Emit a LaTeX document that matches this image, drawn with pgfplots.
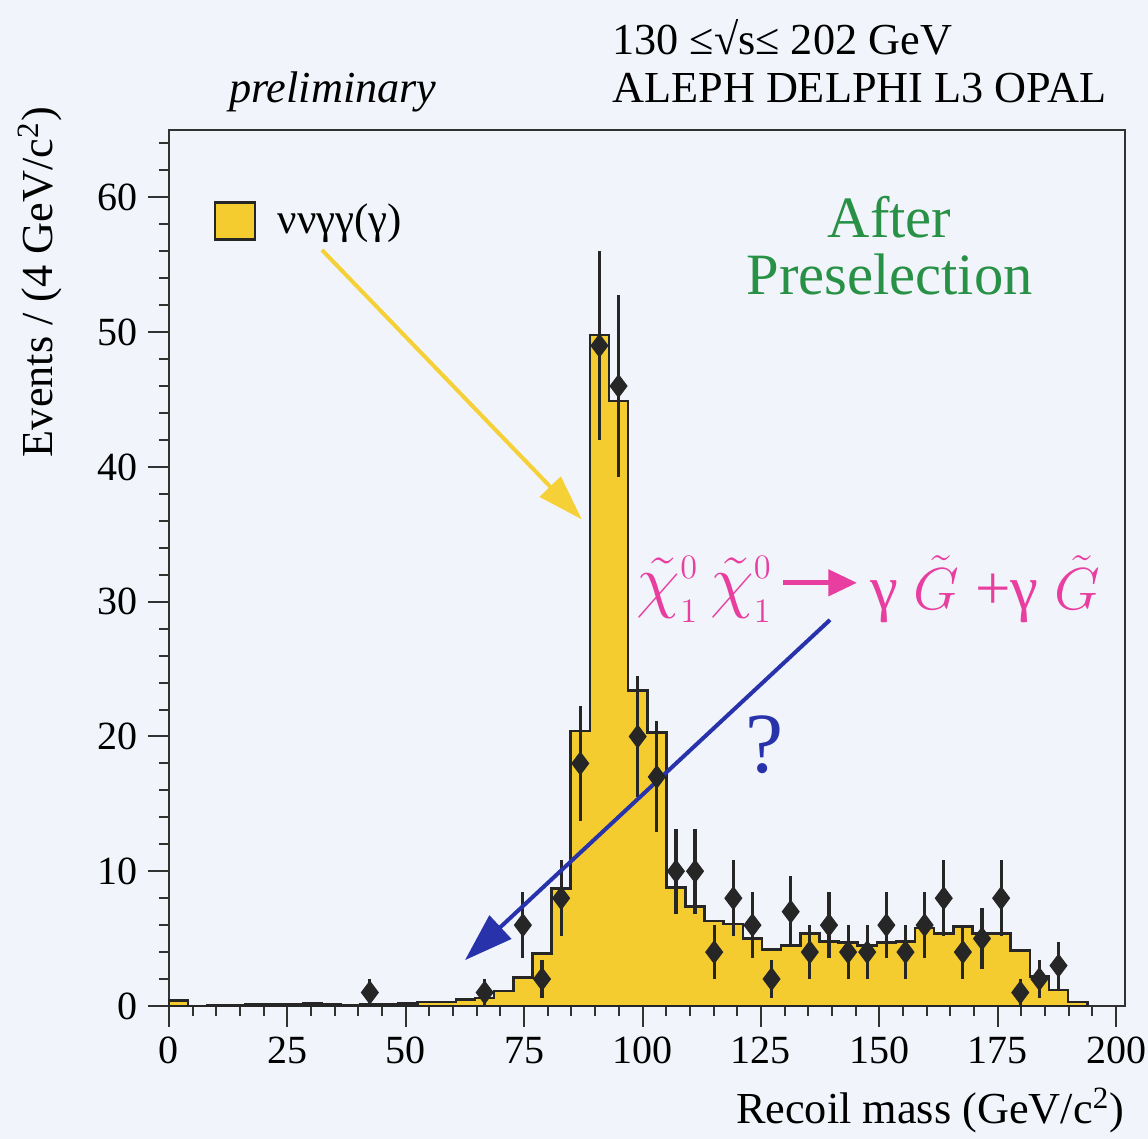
\documentclass[border=0pt]{standalone}
\usepackage{fontspec}
\setmainfont{Liberation Serif}
\usepackage{pgfplots}
\pgfplotsset{compat=1.18}
\usetikzlibrary{arrows.meta}
\definecolor{bg}{RGB}{241,245,251}
\definecolor{histfill}{RGB}{244,204,48}
\definecolor{yarrow}{RGB}{245,208,55}
\definecolor{barr}{RGB}{40,50,170}
\definecolor{pinkc}{RGB}{232,62,160}
\definecolor{greenc}{RGB}{40,145,70}
\definecolor{axgray}{RGB}{50,50,50}
\begin{document}
\begin{tikzpicture}
\fill[bg] (-59.15pt,-46.55pt) rectangle (342.65pt,352.1pt);
\useasboundingbox (-59.15pt,-46.55pt) rectangle (342.65pt,352.1pt);
\begin{axis}[
  scale only axis, width=334.6pt, height=306.6pt,
  at={(0pt,0pt)}, anchor=south west,
  xmin=0, xmax=201.9, ymin=0, ymax=65,
  axis line style={axgray, line width=0.8pt},
  xtick={0,25,...,200}, minor xtick={5,10,...,195},
  ytick={0,10,...,60}, minor ytick={2,4,...,64},
  tick align=outside, xtick pos=bottom, ytick pos=left,
  major tick length=7.35pt, minor tick length=3.5pt,
  tick style={axgray, line width=0.7pt},
  /pgf/number format/assume math mode=true,
  tick label style={font=\fontsize{14}{16}\selectfont},
  xlabel={Recoil mass (GeV/c\textsuperscript{2})},
  ylabel={Events / (4 GeV/c\textsuperscript{2})},
  label style={font=\fontsize{15.5}{18}\selectfont},
  xlabel style={at={(axis description cs:1,-0.119)}, anchor=east, inner sep=0pt},
  ylabel style={at={(axis description cs:-0.135,1.027)}, anchor=east, inner sep=0pt},
  clip=false,
  legend style={at={(axis description cs:0.046,0.896)}, anchor=west, draw=none, fill=none,
    inner sep=0pt, font=\fontsize{15}{18}\selectfont},
  legend cell align=left,
]
\addplot[const plot, fill=histfill, draw=black!85, line width=0.9pt,
  legend image code/.code={\draw[fill=histfill, draw=black!85, line width=0.9pt] (0pt,-6.5pt) rectangle (14pt,6.5pt); \path[draw=none, fill=none] (14pt,0pt) rectangle (20pt,0.1pt);}]
  coordinates {
  (0,0.4) (4.04,0) (8.08,0.05) (12.12,0.05) (16.16,0.1) (20.2,0.15) (24.24,0.1)
  (28.28,0.2) (32.32,0.1) (36.36,0.05) (40.4,0.1) (44.44,0.1) (48.48,0.2)
  (52.52,0.3) (56.56,0.3) (60.6,0.5) (64.64,0.6) (68.68,1.1) (72.72,2.1)
  (76.76,3.9) (80.8,8.7) (84.84,20.4) (88.88,49.8) (92.92,44.9) (96.96,23.4)
  (101,20.3) (105.04,8.8) (109.08,7.4) (113.12,6.3) (117.16,6.1) (121.2,5.0)
  (125.24,4.2) (129.28,4.5) (133.32,5.4) (137.36,4.8) (141.4,4.7) (145.44,4.5)
  (149.48,4.7) (153.52,4.8) (157.56,5.8) (161.6,5.4) (165.64,5.9) (169.68,5.4)
  (173.72,5.4) (177.76,4.1) (181.8,2.2) (185.84,1.2) (189.88,0.3) (193.92,0)
  } \closedcycle;
\addlegendentry{ννγγ(γ)}
\addplot[forget plot, only marks, mark=diamond*, mark size=3.9pt, color=black!85,
  error bars/.cd, y dir=both, y explicit, error mark=none,
  error bar style={line width=1.1pt, black!85}]
  coordinates {
  (42.42,1) +- (0,1)
  (66.66,1) +- (0,1)
  (74.74,6) +- (0,2.449)
  (78.78,2) +- (0,1.414)
  (82.82,8) +- (0,2.828)
  (86.86,18) +- (0,4.243)
  (90.90,49) +- (0,7)
  (94.94,46) +- (0,6.782)
  (98.98,20) +- (0,4.472)
  (103.02,17) +- (0,4.123)
  (107.06,10) +- (0,3.162)
  (111.10,10) +- (0,3.162)
  (115.14,4) +- (0,2)
  (119.18,8) +- (0,2.828)
  (123.22,6) +- (0,2.449)
  (127.26,2) +- (0,1.414)
  (131.30,7) +- (0,2.646)
  (135.34,4) +- (0,2)
  (139.38,6) +- (0,2.449)
  (143.42,4) +- (0,2)
  (147.46,4) +- (0,2)
  (151.50,6) +- (0,2.449)
  (155.54,4) +- (0,2)
  (159.58,6) +- (0,2.449)
  (163.62,8) +- (0,2.828)
  (167.66,4) +- (0,2)
  (171.70,5) +- (0,2.236)
  (175.74,8) +- (0,2.828)
  (179.78,1) +- (0,1)
  (183.82,2) +- (0,1.414)
  (187.86,3) +- (0,1.732)
  };
\node[font=\fontsize{15.5}{18}\selectfont\itshape] at (axis cs:34.6,67.85) {preliminary};
\node[anchor=west, inner sep=0pt, font=\fontsize{15.5}{18}\selectfont] at (axis cs:93.5,71.9) {130 ≤√s≤ 202 GeV};
\node[anchor=west, inner sep=0pt, font=\fontsize{15.5}{18}\selectfont] at (axis cs:93.5,68.15) {ALEPH DELPHI L3 OPAL};
\node[greenc, align=center, font=\fontsize{20.5}{20}\selectfont] at (axis cs:152.2,56.4) {After\\Preselection};
\draw[yarrow, line width=1.4pt, -{Triangle[length=16pt,width=10pt]}] (axis cs:32.3,56.1) -- (axis cs:87.2,36.1);
\draw[barr, line width=1.4pt, -{Triangle[length=17pt,width=11pt]}] (axis cs:139.6,28.65) -- (axis cs:62.5,3.4);
\node[barr, font=\fontsize{30}{30}\selectfont] at (axis cs:125.8,19.4) {?};
\node[pinkc, anchor=east, inner sep=0pt, font=\fontsize{23}{23}\selectfont] at (axis cs:127.5,30.9) {$\tilde{\chi}^{\scriptscriptstyle 0}_{\scriptscriptstyle 1}\,\tilde{\chi}^{\scriptscriptstyle 0}_{\scriptscriptstyle 1}$};
\draw[pinkc, line width=1.8pt, -{Triangle[length=10pt,width=9pt]}] (axis cs:129.6,31.4) -- (axis cs:145.3,31.4);
\node[pinkc, anchor=west, inner sep=0pt, font=\fontsize{22}{22}\selectfont] at (axis cs:148.0,30.9) {γ $\tilde{G}$ +γ $\tilde{G}$};
\end{axis}
\end{tikzpicture}
\end{document}
